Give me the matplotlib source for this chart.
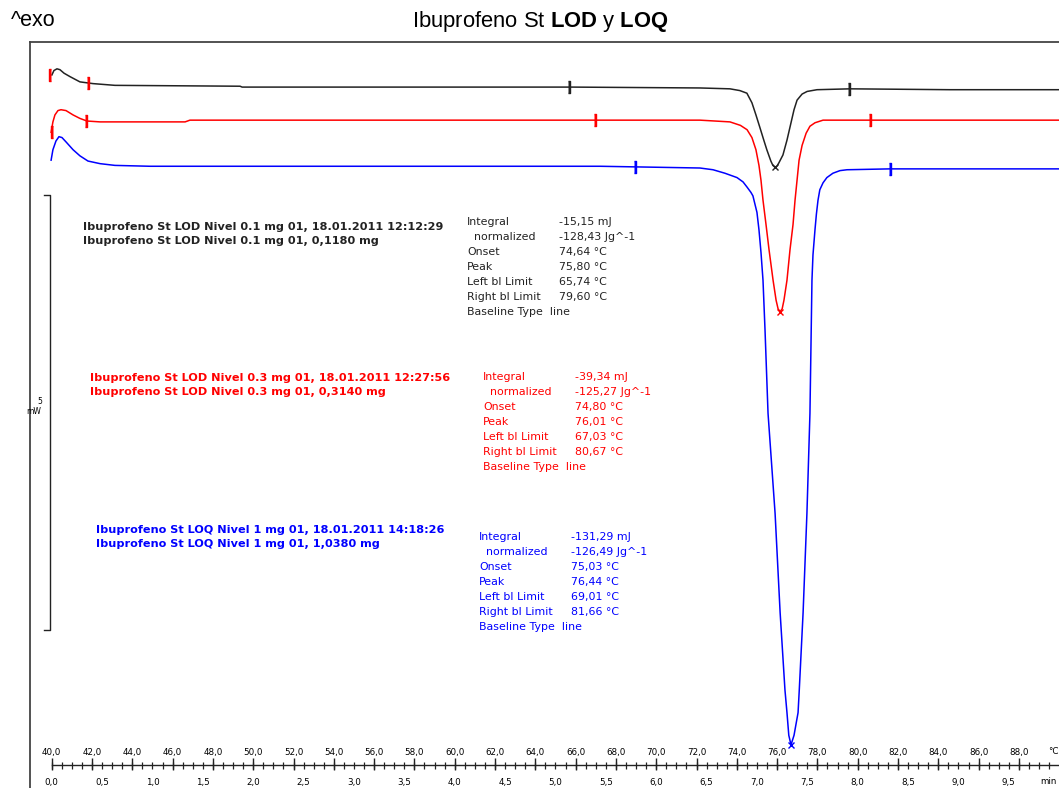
import numpy as np
import matplotlib.pyplot as plt
from matplotlib.path import Path
from matplotlib.lines import Line2D

plt.rcParams['mathtext.fontset'] = 'custom'
plt.rcParams['mathtext.rm'] = 'Liberation Sans'
plt.rcParams['mathtext.bf'] = 'Liberation Sans:bold'

# DSC curves: temperature (degC) and heat flow (mW, curves shifted as displayed)
t_black = [40.01, 40.11, 40.26, 40.41, 40.61, 40.91, 41.40, 42.05, 43.14, 49.35, 49.45, 57.28,
           65.82, 72.17, 73.66, 74.15, 74.50, 74.75, 74.95, 75.14, 75.34, 75.49, 75.69, 75.79,
           75.89, 75.99, 76.09, 76.29, 76.49, 76.64, 76.84, 76.99, 77.24, 77.49, 77.98, 79.62,
           84.58, 89.99]
hf_black = [6.61, 6.66, 6.68, 6.67, 6.63, 6.59, 6.53, 6.51, 6.49, 6.48, 6.47, 6.47,
            6.47, 6.46, 6.45, 6.43, 6.40, 6.29, 6.15, 6.01, 5.86, 5.75, 5.62, 5.57,
            5.55, 5.56, 5.60, 5.69, 5.86, 6.01, 6.21, 6.32, 6.39, 6.42, 6.44, 6.45,
            6.44, 6.44]

t_red = [39.97, 40.06, 40.16, 40.31, 40.46, 40.71, 41.06, 41.40, 41.75, 42.40, 46.62, 46.86,
         57.28, 72.17, 73.66, 74.18, 74.51, 74.75, 74.95, 75.10, 75.20, 75.30, 75.45, 75.60,
         75.80, 75.95, 76.05, 76.15, 76.25, 76.34, 76.49, 76.64, 76.79, 76.89, 76.99, 77.09,
         77.24, 77.44, 77.63, 77.88, 78.28, 80.71, 89.99]
hf_red = [5.95, 6.07, 6.15, 6.20, 6.21, 6.20, 6.15, 6.11, 6.08, 6.07, 6.07, 6.09,
          6.09, 6.09, 6.07, 6.03, 5.98, 5.89, 5.75, 5.57, 5.40, 5.17, 4.89, 4.60,
          4.25, 4.02, 3.92, 3.89, 3.92, 4.02, 4.25, 4.60, 4.89, 5.17, 5.40, 5.63,
          5.80, 5.94, 6.02, 6.06, 6.09, 6.09, 6.09]

t_blue = [39.97, 40.06, 40.21, 40.36, 40.51, 40.71, 41.06, 41.40, 41.80, 42.40, 43.14, 44.88,
          67.21, 72.17, 72.82, 73.41, 74.01, 74.31, 74.51, 74.70, 74.80, 75.00, 75.10, 75.20,
          75.30, 75.40, 75.55, 75.90, 76.15, 76.39, 76.49, 76.58, 76.69, 76.84, 77.04, 77.10,
          77.29, 77.48, 77.63, 77.73, 77.78, 77.88, 77.95, 78.03, 78.12, 78.28, 78.47, 78.77,
          79.12, 79.47, 81.60, 89.99]
hf_blue = [5.63, 5.75, 5.85, 5.90, 5.89, 5.84, 5.75, 5.68, 5.62, 5.59, 5.57, 5.56,
           5.56, 5.54, 5.52, 5.48, 5.43, 5.38, 5.32, 5.26, 5.22, 5.03, 4.83, 4.57,
           4.25, 3.68, 2.72, 1.57, 0.43, -0.46, -0.72, -0.98, -1.09, -0.98, -0.72, -0.46,
           0.43, 1.57, 2.72, 4.25, 4.54, 4.83, 5.01, 5.17, 5.29, 5.37, 5.43, 5.48,
           5.51, 5.52, 5.53, 5.53]

# evaluation results
samples = ['Ibuprofeno St LOD Nivel 0.1 mg 01', 'Ibuprofeno St LOD Nivel 0.3 mg 01',
           'Ibuprofeno St LOQ Nivel 1 mg 01']
dates = ['18.01.2011 12:12:29', '18.01.2011 12:27:56', '18.01.2011 14:18:26']
masses_mg = [0.1180, 0.3140, 1.0380]
integral_mJ = [-15.15, -39.34, -131.29]
normalized_Jg = [-128.43, -125.27, -126.49]
onset_C = [74.64, 74.80, 75.03]
peak_C = [75.80, 76.01, 76.44]
left_lim = [65.74, 67.03, 69.01]
right_lim = [79.60, 80.67, 81.66]
baseline_type = ['line', 'line', 'line']
start_lo = [39.87, 39.97]   # red start-range brackets on black and red curves
start_hi = [41.85, 41.75]

temp_ticks = np.arange(40, 89, 2)
time_ticks = np.arange(0, 10, 0.5)
heating_rate = 5.0  # K/min
scale_mW = 5

colors = ['#222222', '#ff0000', '#0000ff']
curves = [(t_black, hf_black), (t_red, hf_red), (t_blue, hf_blue)]

W, H = 1059, 788
fig = plt.figure(figsize=(W / 100, H / 100), dpi=100)
ax = fig.add_axes([0, 0, 1, 1])
ax.set_xlim(37.434, 89.99)
ax.set_ylim(-1.586, 7.471)
ax.axis('off')
PX = 1 / 87.0  # mW per pixel


def fx(px):
    return px / W


def fy(py):
    return 1 - py / H


def dec(v, n=2):
    return f"{v:.{n}f}".replace('.', ',')


# frame
fig.add_artist(Line2D([fx(30), fx(30)], [fy(42), fy(788)], color='#444444', lw=1.3))
fig.add_artist(Line2D([fx(30), fx(1059)], [fy(42), fy(42)], color='#444444', lw=1.3))

fig.text(fx(540), fy(22), r"Ibuprofeno St $\mathbf{LOD}$ y $\mathbf{LOQ}$",
         family='Liberation Sans', fontsize=15.8, ha='center', va='center')
fig.text(fx(11), fy(21), "^exo", family='Liberation Sans', fontsize=15.5,
         ha='left', va='center')

bracket_r = Path([(-0.4, 1), (0, 1), (0, -1), (-0.4, -1)],
                 [Path.MOVETO, Path.LINETO, Path.LINETO, Path.LINETO])
bracket_l = Path([(0.4, 1), (0, 1), (0, -1), (0.4, -1)],
                 [Path.MOVETO, Path.LINETO, Path.LINETO, Path.LINETO])

for (t, hf), c, lo, hi in zip(curves, colors, left_lim, right_lim):
    ax.plot(t, hf, color=c, lw=1.1, solid_joinstyle='round')
    i = int(np.argmin(hf))
    ax.plot(t[i], hf[i], marker='x', color=c, ms=5, mew=1.0)
    for lim in (lo, hi):
        ax.plot(lim, np.interp(lim, t, hf), marker=bracket_r, color=c, ms=9, mew=1.0)

for (t, hf), lo, hi in zip(curves[:2], start_lo, start_hi):
    ax.plot(lo, np.interp(lo, t, hf), marker=bracket_l, color='#ff0000', ms=8, mew=1.0)
    ax.plot(hi, np.interp(hi, t, hf), marker=bracket_r, color='#ff0000', ms=8, mew=1.0)

# scale bar
sb_x = 39.915
sb_top = 5.23
ax.plot([sb_x - 0.3, sb_x, sb_x, sb_x - 0.3], [sb_top, sb_top, sb_top - scale_mW, sb_top - scale_mW],
        color='#222222', lw=1.0)
fig.text(fx(40), fy(402), str(scale_mW), fontsize=5.5, ha='center', va='center')
fig.text(fx(34), fy(412), "mW", fontsize=5.5, ha='center', va='center')

# legend blocks and evaluation results
leg_pos = [(83, 227), (90, 378), (96, 530)]
res_pos = [(467, 222), (483, 377), (479, 537)]
for k in range(3):
    lx, ly = leg_pos[k]
    fig.text(fx(lx), fy(ly), f"{samples[k]}, {dates[k]}", color=colors[k],
             fontsize=8.1, weight='bold', va='center')
    fig.text(fx(lx), fy(ly + 14), f"{samples[k]}, {dec(masses_mg[k], 4)} mg", color=colors[k],
             fontsize=8.1, weight='bold', va='center')
    rx, ry = res_pos[k]
    rows = [("Integral", f"{dec(integral_mJ[k])} mJ"),
            ("  normalized", f"{dec(normalized_Jg[k])} Jg^-1"),
            ("Onset", f"{dec(onset_C[k])} °C"),
            ("Peak", f"{dec(peak_C[k])} °C"),
            ("Left bl Limit", f"{dec(left_lim[k])} °C"),
            ("Right bl Limit", f"{dec(right_lim[k])} °C")]
    for j, (lab, val) in enumerate(rows):
        fig.text(fx(rx), fy(ry + 15 * j), lab, color=colors[k], fontsize=7.9, va='center')
        fig.text(fx(rx + 92), fy(ry + 15 * j), val, color=colors[k], fontsize=7.9, va='center')
    fig.text(fx(rx), fy(ry + 90), f"Baseline Type  {baseline_type[k]}", color=colors[k],
             fontsize=7.9, va='center')

# ruler (temperature above, time below)
yr = -1.322
ax.plot([40, 89.99], [yr, yr], color='#222222', lw=1.0)
minor = np.arange(40, 90, 0.5)
ax.vlines(minor, yr - 4 * PX, yr + 3 * PX, color='#222222', lw=0.9)
ax.vlines(temp_ticks, yr - 5 * PX, yr + 7 * PX, color='#222222', lw=1.0)
for tt in temp_ticks:
    ax.text(tt, yr + 13 * PX, dec(tt, 1), fontsize=6.3, ha='center', va='center')
for tm in time_ticks:
    ax.text(40 + tm * heating_rate, yr - 17 * PX, dec(tm, 1), fontsize=6.3, ha='center', va='center')
fig.text(fx(1053), fy(752), "°C", fontsize=6.3, ha='center', va='center')
fig.text(fx(1048), fy(782), "min", fontsize=6.3, ha='center', va='center')

fig.savefig('out.png', dpi=100)
